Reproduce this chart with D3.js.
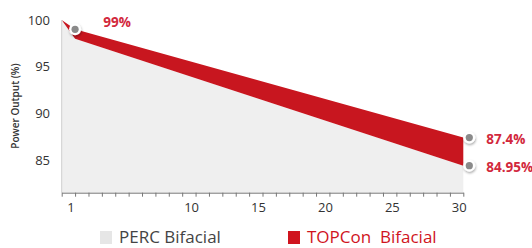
<!DOCTYPE html>
<html>
<head>
<meta charset="utf-8">
<script src="https://cdn.jsdelivr.net/npm/d3@7"></script>
<style>
  body { margin: 0; background: #fff; }
  text { font-family: "Open Sans", "Noto Sans", sans-serif; }
</style>
</head>
<body>
<div id="canvas"></div>
<script>
// data
var years = [0, 1, 30];
var topcon = [100, 99, 87.4];
var perc = [100, 98, 84.4];
var xLabels = [1, 10, 15, 20, 25, 30];
var yLabels = [85, 90, 95, 100];
var seriesNames = ["PERC Bifacial", "TOPCon  Bifacial"];
var callouts = [
    { year: 1, value: 99, text: "99%" },
    { year: 30, value: 87.4, text: "87.4%" },
    { year: 30, value: 84.4, text: "84.95%" }
];

function init() {
    var svg = d3.select("#canvas").append("svg")
        .attr("width", 532)
        .attr("height", 248);

    var defs = svg.append("defs");
    var f = defs.append("filter").attr("id", "shadow")
        .attr("x", "-50%").attr("y", "-50%").attr("width", "200%").attr("height", "200%");
    f.append("feDropShadow").attr("dx", 0.5).attr("dy", 1.5)
        .attr("stdDeviation", 1.2).attr("flood-color", "#000").attr("flood-opacity", 0.35);

    var x = d3.scaleLinear().domain([0, 30]).range([61.7, 463.3]);
    var y = d3.scaleLinear().domain([81.5, 100]).range([192.7, 20]);

    var rows = years.map(function (d, i) {
        return { year: d, top: topcon[i], perc: perc[i] };
    });

    // grey area: PERC
    var percArea = d3.area()
        .x(function (d) { return x(d.year); })
        .y0(y(81.5))
        .y1(function (d) { return y(d.perc); });
    svg.append("path").datum(rows)
        .attr("d", percArea)
        .attr("fill", "#efefef");

    // red band: TOPCon gain
    var band = d3.area()
        .x(function (d) { return x(d.year); })
        .y0(function (d) { return y(d.perc); })
        .y1(function (d) { return y(d.top); });
    svg.append("path").datum(rows)
        .attr("d", band)
        .attr("fill", "#c8161f");

    // left axis line
    svg.append("line")
        .attr("x1", x(0)).attr("x2", x(0))
        .attr("y1", y(100)).attr("y2", y(81.5))
        .attr("stroke", "#cfcfcf").attr("stroke-width", 1);

    // bottom axis with yearly ticks
    var xAxis = svg.append("g")
        .attr("transform", "translate(0," + y(81.5) + ")")
        .call(d3.axisBottom(x).tickValues(d3.range(0, 31)).tickSize(4).tickSizeOuter(0).tickFormat(""));
    xAxis.select(".domain").attr("stroke", "#777");
    xAxis.selectAll(".tick line").attr("stroke", "#777");

    svg.append("g").selectAll("text")
        .data(xLabels)
        .join("text")
        .attr("x", function (d) { return x(d) - 4; })
        .attr("y", 212)
        .attr("text-anchor", "middle")
        .attr("font-size", 13)
        .attr("fill", "#333")
        .text(function (d) { return d; });

    svg.append("g").selectAll("text")
        .data(yLabels)
        .join("text")
        .attr("x", 50)
        .attr("y", function (d) { return y(d); })
        .attr("dy", "0.35em")
        .attr("text-anchor", "end")
        .attr("font-size", 13)
        .attr("fill", "#333")
        .text(function (d) { return d; });

    svg.append("text")
        .attr("transform", "translate(19,106) rotate(-90)")
        .attr("text-anchor", "middle")
        .attr("font-size", 10)
        .attr("font-weight", 600)
        .attr("fill", "#333")
        .text("Power Output (%)");

    // markers
    var mk = svg.append("g").selectAll("g")
        .data(callouts)
        .join("g")
        .attr("transform", function (d) {
            var dx = d.year === 30 ? 6 : 0;
            return "translate(" + (x(d.year) + dx) + "," + y(d.value) + ")";
        });
    mk.append("circle").attr("r", 6).attr("fill", "#fff").attr("filter", "url(#shadow)");
    mk.append("circle").attr("r", 3.6).attr("fill", "#8a8a8a");

    svg.append("g").selectAll("text")
        .data(callouts)
        .join("text")
        .attr("x", function (d) { return d.year === 30 ? x(d.year) + 23 : x(d.year) + 42; })
        .attr("y", function (d) { return d.year === 30 ? y(d.value) + 2 : y(d.value) - 7; })
        .attr("dy", "0.35em")
        .attr("text-anchor", function (d) { return d.year === 30 ? "start" : "middle"; })
        .attr("font-size", 13.5)
        .attr("font-weight", 700)
        .attr("fill", "#d2283c")
        .text(function (d) { return d.text; });

    // legend
    var legendX = [100, 288];
    var legendColor = ["#e6e6e6", "#d0141e"];
    var lg = svg.append("g").selectAll("g")
        .data(seriesNames)
        .join("g")
        .attr("transform", function (d, i) { return "translate(" + legendX[i] + ",243)"; });
    lg.append("rect")
        .attr("x", 0).attr("y", -12)
        .attr("width", 12).attr("height", 13)
        .attr("fill", function (d, i) { return legendColor[i]; });
    lg.append("text")
        .attr("x", 19)
        .attr("font-size", 17)
        .attr("fill", function (d, i) { return i === 0 ? "#444" : "#d0141e"; })
        .attr("xml:space", "preserve")
        .style("white-space", "pre")
        .text(function (d) { return d; });
}
window.onload = init;
</script>
</body>
</html>
